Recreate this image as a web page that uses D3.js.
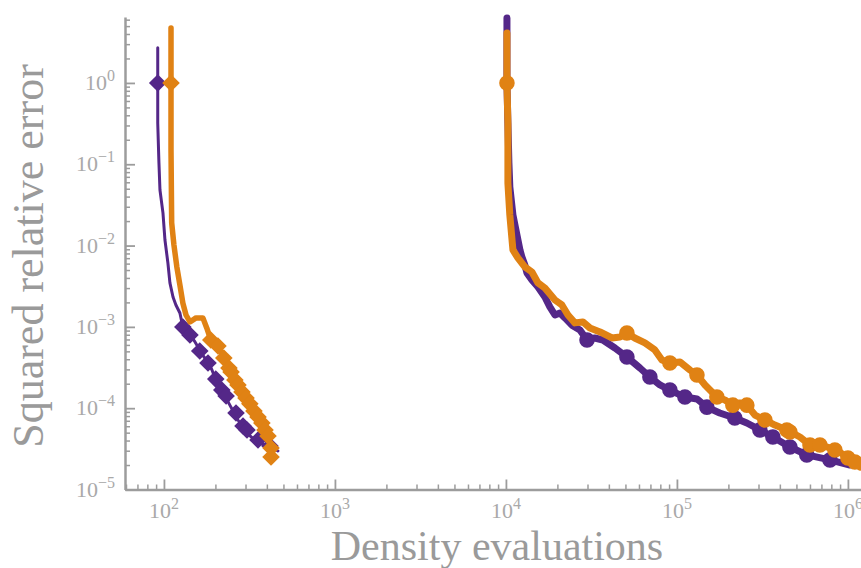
<html>
<head>
<meta charset="utf-8">
<style>
    body { margin: 0; background: #fff; }
    svg { display: block; }
    .chart .tick-label {
        fill: #a9a9a9;
        font-family: "Liberation Serif", "DejaVu Serif", serif;
        font-size: 22px;
    }
    .chart .title {
        fill: #9a9a9a;
        font-family: "Liberation Serif", "DejaVu Serif", serif;
    }
    .chart .axis path, .chart .axis line {
        stroke: #9c9c9c;
        fill: none;
    }
</style>
</head>
<body>
<svg class="chart" width="861" height="568"></svg>
<script src="https://d3js.org/d3.v7.min.js"></script>
<script>

// left group (diamonds): purple line
var purpleLeftX = [92, 92, 92, 93.5, 94.8, 98.7, 101.4, 105.5, 108.4, 113, 117.5, 124, 129, 142, 152, 162, 171.5, 181, 191, 199, 218, 243, 271, 306, 340, 374, 417, 464];
var purpleLeftY = [2.70, 1, 0.322, 0.104, 0.0483, 0.0252, 0.0117, 0.0061, 0.00347, 0.00233, 0.00186, 0.00148, 0.000998, 0.000795, 0.000652, 0.00052, 0.000426, 0.00037, 0.000295, 0.000235, 0.000167, 0.000109, 0.0000716, 0.0000495, 0.0000406, 0.0000363, 0.0000343, 0.0000298];
var purpleLeftMarkX = [92, 129, 142, 162, 181, 201, 218, 231, 264, 290, 306, 355, 417];
var purpleLeftMarkY = [1, 0.000998, 0.000795, 0.000505, 0.00036, 0.000228, 0.000167, 0.000141, 0.0000873, 0.0000604, 0.000054, 0.0000406, 0.0000343];

// left group: orange line
var orangeLeftX = [110, 110, 110, 111, 114.4, 119, 124, 129, 134.6, 142, 154, 169, 178, 188, 207, 224, 247, 271, 302, 336, 374, 406, 423, 423];
var orangeLeftY = [4.75, 1, 0.150, 0.019, 0.0102, 0.00546, 0.00328, 0.00197, 0.0014, 0.00115, 0.00129, 0.00129, 0.000969, 0.00069, 0.000582, 0.000414, 0.000279, 0.000193, 0.000133, 0.0000924, 0.0000658, 0.0000455, 0.0000324, 0.0000251];
var orangeLeftMarkX = [110, 188, 207, 224, 240, 247, 260, 271, 286, 302, 318, 336, 355, 374, 390, 406, 423, 423];
var orangeLeftMarkY = [1, 0.00069, 0.000582, 0.000414, 0.000312, 0.000279, 0.000222, 0.000193, 0.000158, 0.000133, 0.000113, 0.0000924, 0.000078, 0.0000658, 0.000054, 0.0000455, 0.0000324, 0.0000251];

// right group (circles): purple line
var purpleRightX = [10140, 10140, 10270, 10410, 10540, 10990, 11600, 12080, 12400, 12900, 13270, 14190, 15400, 16900, 18070, 19350, 20700, 22140, 24320, 27100, 29800, 33100, 36900, 43400, 51000, 60800, 69500, 79600, 91000, 111400, 131000, 149700, 178000, 218000, 256500, 305600, 364000, 458000, 575000, 785000, 1028000];
var purpleRightY = [6.3, 1, 0.322, 0.104, 0.0526, 0.0238, 0.0135, 0.00883, 0.00724, 0.00577, 0.0046, 0.00378, 0.0031, 0.00233, 0.00176, 0.0014, 0.00148, 0.00129, 0.00105, 0.000916, 0.00069, 0.00073, 0.00069, 0.00055, 0.000426, 0.000312, 0.000242, 0.000193, 0.000167, 0.000137, 0.00013, 0.000103, 0.0000873, 0.0000758, 0.0000658, 0.000054, 0.0000442, 0.0000333, 0.0000266, 0.0000231, 0.00002];
var purpleRightMarkX = [29800, 51000, 69500, 91000, 111400, 149700, 218000, 305600, 364000, 458000, 575000, 785000];
var purpleRightMarkY = [0.00069, 0.000426, 0.000242, 0.000167, 0.000137, 0.000103, 0.0000758, 0.000054, 0.0000442, 0.0000333, 0.0000266, 0.0000231];

// right group: orange line
var orangeRightX = [10140, 10140, 10270, 10270, 10540, 10990, 11750, 12900, 14190, 15400, 16900, 19350, 21250, 23060, 25300, 28200, 31000, 35500, 41700, 46500, 51000, 56700, 65000, 74300, 81700, 91000, 104300, 119200, 131000, 146000, 160300, 171300, 191000, 212400, 233500, 256500, 286000, 327000, 374000, 439500, 524000, 600000, 686000, 862000, 1000000, 1175000];
var orangeRightY = [4.12, 1, 0.322, 0.0589, 0.0238, 0.00883, 0.00704, 0.00546, 0.00473, 0.00347, 0.00301, 0.00214, 0.00186, 0.0014, 0.00112, 0.00115, 0.000969, 0.000866, 0.00073, 0.000751, 0.000841, 0.00073, 0.000634, 0.00052, 0.000392, 0.00036, 0.00037, 0.000295, 0.000256, 0.000193, 0.000158, 0.000137, 0.000126, 0.000109, 0.000116, 0.000109, 0.0000824, 0.0000716, 0.0000621, 0.000054, 0.0000442, 0.0000353, 0.0000353, 0.0000306, 0.0000244, 0.0000189];
var orangeRightMarkX = [10140, 51000, 91000, 131000, 171300, 212400, 256500, 327000, 439500, 458000, 600000, 686000, 839000, 1000000, 1099000];
var orangeRightMarkY = [1, 0.000841, 0.00036, 0.000256, 0.000137, 0.000109, 0.000109, 0.0000716, 0.000054, 0.000051, 0.0000353, 0.0000353, 0.0000306, 0.0000244, 0.0000218];

var xMajor = [1e2, 1e3, 1e4, 1e5, 1e6];
var xExp = ["2", "3", "4", "5", "6"];
var yMajor = [1e-5, 1e-4, 1e-3, 1e-2, 1e-1, 1e0];
var yExp = ["\u22125", "\u22124", "\u22123", "\u22122", "\u22121", "0"];

var purple = "#542788";
var orange = "#e08214";

var width = 861;
var height = 568;

var xScale = d3.scaleLog()
    .domain([59.2, 3.1623e6])
    .range([125, 933.4]);

var yScale = d3.scaleLog()
    .domain([1e-5, 6.47])
    .range([489.5, 17]);

var chart = d3.select('.chart')
    .attr('width', width)
    .attr('height', height);

// minor ticks
function minors(lo, hi) {
    var out = [];
    for (var e = -6; e <= 7; e++) {
        for (var m = 2; m <= 9; m++) {
            var v = m * Math.pow(10, e);
            if (v >= lo && v <= hi) out.push(v);
        }
    }
    return out;
}

var xAxisY = yScale(1e-5);
var yAxisX = xScale(59.2);

chart.append('g')
    .attr('class', 'axis')
    .attr('transform', 'translate(0,' + xAxisY + ')')
    .call(d3.axisBottom(xScale).tickValues(minors(59.2, 3e6)).tickSizeInner(-5).tickSizeOuter(0).tickFormat(''))
    .call(function(g) { g.select('.domain').attr('stroke-width', 2.5); g.selectAll('line').attr('stroke-width', 1.5); });

chart.append('g')
    .attr('class', 'axis')
    .attr('transform', 'translate(0,' + xAxisY + ')')
    .call(d3.axisBottom(xScale).tickValues(xMajor).tickSizeInner(-10).tickSizeOuter(0).tickFormat(''))
    .call(function(g) { g.select('.domain').remove(); g.selectAll('line').attr('stroke-width', 1.8); });

chart.append('g')
    .attr('class', 'axis')
    .attr('transform', 'translate(' + yAxisX + ',0)')
    .call(d3.axisLeft(yScale).tickValues(minors(1e-5, 6.47)).tickSizeInner(-5).tickSizeOuter(0).tickFormat(''))
    .call(function(g) { g.select('.domain').attr('stroke-width', 2.5); g.selectAll('line').attr('stroke-width', 1.5); });

chart.append('g')
    .attr('class', 'axis')
    .attr('transform', 'translate(' + yAxisX + ',0)')
    .call(d3.axisLeft(yScale).tickValues(yMajor).tickSizeInner(-10).tickSizeOuter(0).tickFormat(''))
    .call(function(g) { g.select('.domain').remove(); g.selectAll('line').attr('stroke-width', 1.8); });

// tick labels with superscripts
var xl = chart.selectAll('.xlab')
    .data(xMajor)
    .enter()
    .append('text')
    .attr('class', 'tick-label xlab')
    .attr('x', function(d) { return xScale(d); })
    .attr('y', xAxisY + 28)
    .attr('text-anchor', 'middle');
xl.append('tspan').text('10');
xl.append('tspan').attr('dy', -9).attr('font-size', 16).text(function(d, i) { return xExp[i]; });

var yl = chart.selectAll('.ylab')
    .data(yMajor)
    .enter()
    .append('text')
    .attr('class', 'tick-label ylab')
    .attr('x', 115)
    .attr('y', function(d) { return yScale(d) + 7; })
    .attr('text-anchor', 'end');
yl.append('tspan').text('10');
yl.append('tspan').attr('dy', -9).attr('font-size', 16).text(function(d, i) { return yExp[i]; });

// axis titles
chart.append('text')
    .attr('class', 'title')
    .attr('x', 497)
    .attr('y', 560)
    .attr('font-size', 42)
    .attr('text-anchor', 'middle')
    .text('Density evaluations');

chart.append('text')
    .attr('class', 'title')
    .attr('transform', 'translate(43,256) rotate(-90)')
    .attr('font-size', 44)
    .attr('text-anchor', 'middle')
    .text('Squared relative error');

// series
var line = d3.line()
    .x(function(d) { return xScale(d[0]); })
    .y(function(d) { return yScale(d[1]); });

function zip(a, b) { return a.map(function(v, i) { return [v, b[i]]; }); }

function drawSeries(xs, ys, mx, my, color, lw, shape, size) {
    chart.append('path')
        .datum(zip(xs, ys))
        .attr('d', line)
        .attr('fill', 'none')
        .attr('stroke', color)
        .attr('stroke-width', lw)
        .attr('stroke-linejoin', 'round')
        .attr('stroke-linecap', 'round');
    chart.append('g').selectAll('path')
        .data(zip(mx, my))
        .enter()
        .append('path')
        .attr('d', d3.symbol().type(shape).size(size))
        .attr('transform', function(d) {
            var t = 'translate(' + xScale(d[0]) + ',' + yScale(d[1]) + ')';
            return shape === d3.symbolSquare ? t + ' rotate(45)' : t;
        })
        .attr('fill', color);
}

drawSeries(purpleLeftX, purpleLeftY, purpleLeftMarkX, purpleLeftMarkY, purple, 3, d3.symbolSquare, 155);
drawSeries(orangeLeftX, orangeLeftY, orangeLeftMarkX, orangeLeftMarkY, orange, 5.5, d3.symbolSquare, 155);
drawSeries(purpleRightX, purpleRightY, purpleRightMarkX, purpleRightMarkY, purple, 7, d3.symbolCircle, 190);
drawSeries(orangeRightX, orangeRightY, orangeRightMarkX, orangeRightMarkY, orange, 7, d3.symbolCircle, 190);

</script>
</body>
</html>
